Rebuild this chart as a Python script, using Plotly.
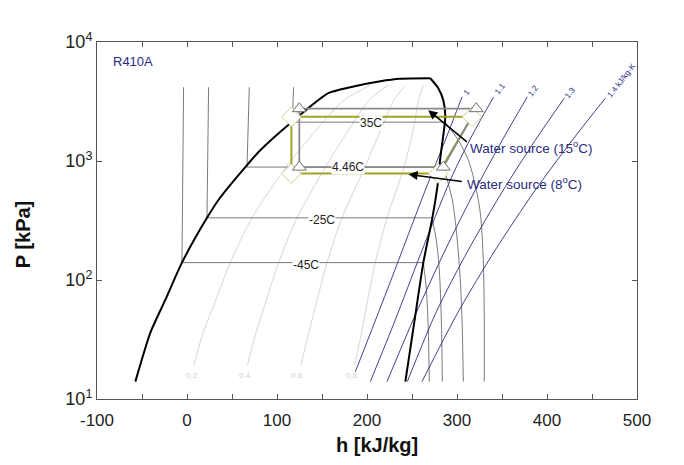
import numpy as np
import plotly.graph_objects as go

# ---------------- data (h in kJ/kg, P in kPa) ----------------
liq_h = [-57.4, -40.8, -24.1, -5.6, 22.2, 36.5, 66.7, 81.4, 114.8, 157, 181.4, 214.8, 237, 270.3]
liq_p = [14, 36, 68.1, 140, 333, 489, 925, 1233, 2080, 3714, 4169, 4680, 4910, 4956]
vap_h = [270.3, 279.2, 284.8, 287, 284.8, 281.4, 279.2, 272.6, 262.6, 252.6, 242.6]
vap_p = [4956, 4093, 3243, 2350, 1649, 1058, 692, 333, 140, 44.5, 14]

# isotherms: liquid leg + two-phase leg, then superheated leg
t_m45_h = [-3.8, -5.6, 262.6]
t_m45_p = [4169, 140, 140]
t_m45_vh = [262.6, 266, 268.1, 269.2]
t_m45_vp = [140, 82.6, 38.1, 14]
t_m25_h = [24, 22.2, 272.2]
t_m25_p = [4169, 333, 333]
t_m25_vh = [272.2, 277, 280.3, 282.6, 283.7]
t_m25_vp = [333, 217, 121.6, 46.2, 14]
t_446_h = [69.2, 66.7, 284.8]
t_446_p = [4169, 889, 889]
t_446_vh = [284.8, 289.2, 294.8, 299.2, 303.7, 305.9, 307]
t_446_vp = [889, 692, 470, 263, 100, 38.1, 14]
t_35_h = [118.4, 117, 287]
t_35_p = [4169, 2120, 2120]
t_35_vh = [287, 301.4, 312.6, 320.3, 325.9, 329.2, 330.3, 330.3]
t_35_vp = [2120, 1496, 1018, 628, 365, 147.5, 46.2, 14]
isotherm_labels = ["-45C", "-25C", "4.46C", "35C"]
isotherm_label_h = [132.2, 149.8, 178.7, 204.8]
isotherm_label_p = [134, 322, 889, 2100]

# quality lines
q_p = [19.4, 36, 68.1, 140, 333, 889, 2120, 3243, 4335]
q02_h = [7.7, 17.9, 32.1, 48.1, 72.2, 110.3, 151, 174.6, 203.4]
q04_h = [67.2, 76.6, 88.3, 101.8, 122.2, 153.9, 185, 202.1, 223.2]
q06_h = [126.8, 135.2, 144.6, 155.6, 172.2, 197.6, 219, 229.7, 243]
q08_h = [186.3, 193.9, 200.8, 209.2, 222.2, 241.1, 253, 257.2, 262.8]
q_labels = ["0.2", "0.4", "0.6", "0.8"]
q_label_h = [5.9, 64.8, 122.6, 183.7]
q_label_p = 15.7

# isentropes
s10_h = [305.6, 287, 264.8, 225.9, 187]
s10_p = [3457, 1496, 570, 96.4, 16.9]
s11_h = [340.7, 317, 292.6, 259.2, 231.4, 203.7]
s11_p = [3457, 1649, 692, 162.5, 46.2, 14]
s12_h = [378.1, 350.3, 320.3, 287, 253.7, 222.2]
s12_p = [3457, 1496, 570, 179, 50.9, 14]
s13_h = [419.2, 387, 351.4, 312.6, 277, 244.8]
s13_p = [3372, 1496, 570, 179, 54, 14]
s14_h = [464.8, 428.1, 387, 342.6, 301.4, 261.1]
s14_p = [3372, 1496, 570, 179, 54, 14]
s_labels = ["1", "1.1", "1.2", "1.3", "1.4 kJ/kg-K"]
s_label_h = [310.3, 348.1, 384.8, 425.9, 482.6]
s_label_p = [3800, 4090, 3940, 3780, 4780]

# cycles
cycA_h = [124.8, 321.4, 284.8, 124.8, 124.8]
cycA_p = [2752, 2752, 889, 889, 2752]
cycB_h = [116, 316.7, 279.2, 116, 116]
cycB_p = [2350, 2350, 784, 784, 2350]

# axis ticks
x_ticks = [-100, 0, 100, 200, 300, 400, 500]
x_ticktext = ["-100", "0", "100", "200", "300", "400", "500"]
y_ticks = [10, 100, 1000, 10000]
y_ticktext = ["10<sup>1</sup>", "10<sup>2</sup>", "10<sup>3</sup>", "10<sup>4</sup>"]

# ---------------- figure ----------------
GRAY = "#7a7a7a"
NAVY = "#2b2b80"
LIGHT = "#d6d6d6"
OLIVE = "#a3a324"
FONT = "Liberation Sans, Arial, sans-serif"

fig = go.Figure()

def add_line(h, p, color, width, shape="linear", smoothing=0.8):
    fig.add_trace(go.Scatter(x=h, y=p, mode="lines",
                             line=dict(color=color, width=width, shape=shape, smoothing=smoothing),
                             hoverinfo="skip", showlegend=False))

for qh in [q02_h, q04_h, q06_h, q08_h]:
    add_line(qh, q_p, LIGHT, 1, "spline")
for th, tp, vh, vp in [(t_m45_h, t_m45_p, t_m45_vh, t_m45_vp), (t_m25_h, t_m25_p, t_m25_vh, t_m25_vp),
                       (t_446_h, t_446_p, t_446_vh, t_446_vp), (t_35_h, t_35_p, t_35_vh, t_35_vp)]:
    add_line(th, tp, GRAY, 1)
    add_line(vh, vp, GRAY, 1, "spline")
for sh, sp in [(s10_h, s10_p), (s11_h, s11_p), (s12_h, s12_p), (s13_h, s13_p), (s14_h, s14_p)]:
    add_line(sh, sp, NAVY, 0.9, "spline")
add_line(liq_h, liq_p, "black", 2, "spline", 0.6)
add_line(vap_h, vap_p, "black", 2, "spline", 0.6)
add_line(cycB_h, cycB_p, OLIVE, 2)
add_line(cycA_h, cycA_p, "#8a8a8a", 1.8)

fig.add_trace(go.Scatter(x=cycB_h[:4], y=cycB_p[:4], mode="markers",
                         marker=dict(symbol="diamond", size=15, color="white",
                                     line=dict(color="#cfcf95", width=1)),
                         hoverinfo="skip", showlegend=False))
fig.add_trace(go.Scatter(x=cycA_h[:4], y=cycA_p[:4], mode="markers",
                         marker=dict(symbol="triangle-up", size=12, color="white",
                                     line=dict(color="#707070", width=1)),
                         hoverinfo="skip", showlegend=False))

ann = []
for t, h, p in zip(isotherm_labels, isotherm_label_h, isotherm_label_p):
    ann.append(dict(x=h, y=np.log10(p), xref="x", yref="y", text=t, showarrow=False,
                    font=dict(family=FONT, size=12, color="#222"), bgcolor="white", borderpad=0))
for t, h in zip(q_labels, q_label_h):
    ann.append(dict(x=h, y=np.log10(q_label_p), xref="x", yref="y", text=t, showarrow=False,
                    font=dict(family=FONT, size=8, color="#cfcfcf")))
for t, h, p in zip(s_labels, s_label_h, s_label_p):
    ann.append(dict(x=h, y=np.log10(p), xref="x", yref="y", text=t, showarrow=False,
                    textangle=-52, font=dict(family=FONT, size=8, color=NAVY)))

# arrows
ann.append(dict(x=268.1, y=3.427, ax=312.6, ay=3.150, xref="x", yref="y", axref="x", ayref="y",
                text="", showarrow=True, arrowhead=2, arrowsize=1.2, arrowwidth=1.5, arrowcolor="black"))
ann.append(dict(x=246.2, y=2.888, ax=307.0, ay=2.8255, xref="x", yref="y", axref="x", ayref="y",
                text="", showarrow=True, arrowhead=2, arrowsize=1.2, arrowwidth=1.5, arrowcolor="black"))
ann.append(dict(x=312.6, y=3.119, xref="x", yref="y", xanchor="left", yanchor="middle",
                text="Water source (15<sup>o</sup>C)",
                showarrow=False, font=dict(family=FONT, size=13.5, color=NAVY)))
ann.append(dict(x=309.2, y=2.812, xref="x", yref="y", xanchor="left", yanchor="middle",
                text="Water source (8<sup>o</sup>C)",
                showarrow=False, font=dict(family=FONT, size=13.5, color=NAVY)))
ann.append(dict(x=0.066, y=0.946, xref="paper", yref="paper", xanchor="center", yanchor="middle",
                text="R410A", showarrow=False, font=dict(family=FONT, size=13, color=NAVY)))
# axis titles
ann.append(dict(x=0.519, y=-0.129, xref="paper", yref="paper", xanchor="center", yanchor="middle",
                text="<b>h [kJ/kg]</b>", showarrow=False, font=dict(family=FONT, size=20, color="#111")))
ann.append(dict(x=-0.137, y=0.459, xref="paper", yref="paper", xanchor="center", yanchor="middle",
                text="<b>P [kPa]</b>", showarrow=False, textangle=-90,
                font=dict(family=FONT, size=20, color="#111")))

fig.update_layout(
    width=676, height=457,
    margin=dict(l=89, r=47, t=34, b=66),
    paper_bgcolor="white", plot_bgcolor="white",
    annotations=ann,
    showlegend=False,
)
fig.update_xaxes(range=[-100, 500], tickvals=x_ticks, ticktext=x_ticktext, showgrid=False, zeroline=False,
                 showline=True, linecolor="#555", linewidth=1, mirror="ticks",
                 ticks="inside", ticklen=5, tickcolor="#555",
                 minor=dict(dtick=50, ticks="inside", ticklen=5, tickcolor="#555", showgrid=False),
                 tickfont=dict(family=FONT, size=17, color="#222"), ticklabelstandoff=6)
fig.update_yaxes(type="log", range=[1, 4], tickvals=y_ticks, ticktext=y_ticktext, showgrid=False,
                 zeroline=False, showline=True, linecolor="#555", linewidth=1, mirror="ticks",
                 ticks="inside", ticklen=5, tickcolor="#555",
                 tickfont=dict(family=FONT, size=18, color="#222"))

fig.write_html("out.html")
